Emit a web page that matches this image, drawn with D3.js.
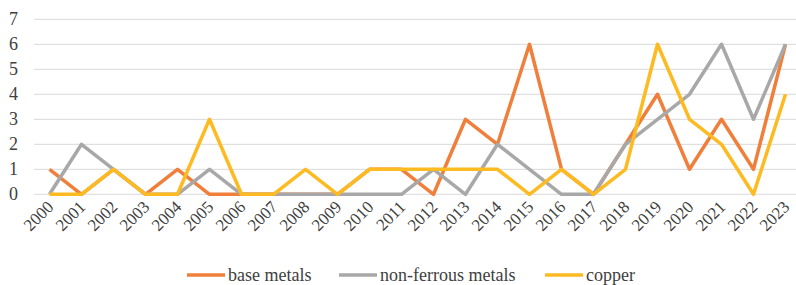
<!DOCTYPE html>
<html>
<head>
<meta charset="utf-8">
<script src="https://cdn.jsdelivr.net/npm/d3@7"></script>
</head>
<body style="margin:0">
<svg id="chart" width="796" height="285" font-family="Liberation Serif"></svg>
<script>
// years on the x axis
var years = ["2000","2001","2002","2003","2004","2005","2006","2007","2008","2009","2010","2011",
  "2012","2013","2014","2015","2016","2017","2018","2019","2020","2021","2022","2023"];

// counts per year
var baseMetals =    [1,0,1,0,1,0,0,0,0,0,1,1,0,3,2,6,1,0,2,4,1,3,1,6];
var nonFerrous =    [0,2,1,0,0,1,0,0,0,0,0,0,1,0,2,1,0,0,2,3,4,6,3,6];
var copper =        [0,0,1,0,0,3,0,0,1,0,1,1,1,1,1,0,1,0,1,6,3,2,0,4];

var yTicks = [0,1,2,3,4,5,6,7];

var seriesNames = ["base metals", "non-ferrous metals", "copper"];
var seriesColors = ["#EF7F3A", "#A8A8A8", "#FDBA21"];

var svg = d3.select("#chart");

// the band runs past the right edge, like the original
var x = d3.scalePoint().domain(years).range([49.5, 785.5]);
var y = d3.scaleLinear().domain([0, 7]).range([194.3, 19.3]);

// gridlines
svg.append("g")
  .selectAll("line")
  .data(yTicks)
  .join("line")
  .attr("x1", 34)
  .attr("x2", 796)
  .attr("y1", function (d) { return y(d); })
  .attr("y2", function (d) { return y(d); })
  .attr("stroke", "#D9D9D9")
  .attr("stroke-width", 1);

// y labels
svg.selectAll("text.ylab")
  .data(yTicks)
  .join("text")
  .attr("class", "ylab")
  .attr("x", 18)
  .attr("y", function (d) { return y(d) + 6; })
  .attr("text-anchor", "end")
  .style("font-family", "'Liberation Serif'")
  .attr("font-size", 18)
  .attr("fill", "#404040")
  .text(function (d) { return d; });

// x labels, turned 45 degrees
svg.selectAll("text.xlab")
  .data(years)
  .join("text")
  .attr("class", "xlab")
  .attr("transform", function (d) { return "translate(" + (x(d) + 5) + ",208) rotate(-45)"; })
  .attr("text-anchor", "end")
  .style("font-family", "'Liberation Serif'")
  .attr("font-size", 17)
  .attr("fill", "#404040")
  .text(function (d) { return d; });

var line = d3.line()
  .x(function (d, i) { return x(years[i]); })
  .y(function (d) { return y(d); });

[baseMetals, nonFerrous, copper].forEach(function (vals, k) {
  svg.append("path")
    .datum(vals)
    .attr("d", line)
    .attr("fill", "none")
    .attr("stroke", seriesColors[k])
    .attr("stroke-width", 3.5)
    .attr("stroke-linejoin", "round");
});

// legend
var legendX = [187, 339, 545];
svg.selectAll("line.leg")
  .data(seriesNames)
  .join("line")
  .attr("class", "leg")
  .attr("x1", function (d, i) { return legendX[i]; })
  .attr("x2", function (d, i) { return legendX[i] + 38; })
  .attr("y1", 275).attr("y2", 275)
  .attr("stroke", function (d, i) { return seriesColors[i]; })
  .attr("stroke-width", 3.5);

svg.selectAll("text.leg")
  .data(seriesNames)
  .join("text")
  .attr("class", "leg")
  .attr("x", function (d, i) { return legendX[i] + 41; })
  .attr("y", 281)
  .style("font-family", "'Liberation Serif'")
  .attr("font-size", 18)
  .attr("fill", "#404040")
  .text(function (d) { return d; });
</script>
</body>
</html>
